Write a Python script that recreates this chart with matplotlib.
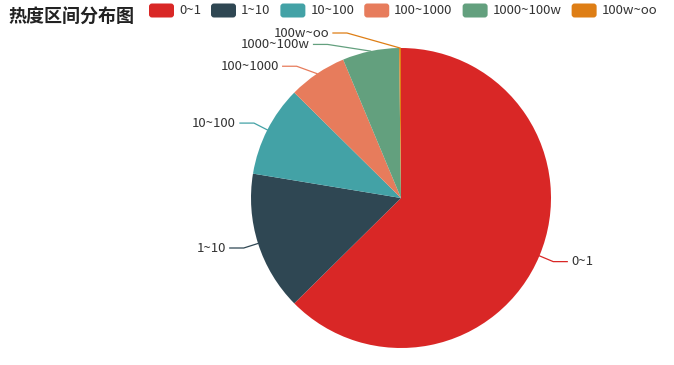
import numpy as np
import matplotlib
matplotlib.use('Agg')
import matplotlib.pyplot as plt
from matplotlib.patches import FancyBboxPatch

plt.rcParams['font.family'] = ['Noto Sans CJK SC', 'DejaVu Sans']

# 数据
title = '热度区间分布图'
categories = ['0~1', '1~10', '10~100', '100~1000', '1000~100w', '100w~oo']
values = [626, 150, 98, 63, 61, 2]
colors = ['#d92726', '#2f4753', '#43a2a6', '#e77c5c', '#63a07e', '#de7e15']

W, H = 674, 365
fig = plt.figure(figsize=(W / 100, H / 100), dpi=100)
ax = fig.add_axes([0, 0, 1, 1])
cx, cy, r = 401, 198, 150  # 像素坐标, y 从上往下


def fy(y):
    return H - y


wedges, _ = ax.pie(values, colors=colors, startangle=90, counterclock=False,
                   center=(cx, fy(cy)), radius=r, wedgeprops=dict(linewidth=0))
ax.set_xlim(0, W)
ax.set_ylim(0, H)
ax.set_aspect('auto')
ax.axis('off')

# 引导线 + 标签 (顶部拥挤的标签稍微挪一下)
nudge = {'100~1000': (-12, 5), '1000~100w': (-40, 8), '100w~oo': (-53, 0)}
len1, len2 = 15, 14
for w, lab, col in zip(wedges, categories, colors):
    mid = np.deg2rad((w.theta1 + w.theta2) / 2)
    c, s = np.cos(mid), np.sin(mid)
    dx, dy = nudge.get(lab, (0, 0))
    x0, y0 = cx + r * c, cy - r * s
    x1, y1 = cx + (r + len1) * c + dx, cy - (r + len1) * s + dy
    side = 1 if c > 0 else -1
    x2 = x1 + side * len2
    ax.plot([x0, x1, x2], [fy(y0), fy(y1), fy(y1)], color=col, lw=0.9)
    ax.text(x2 + side * 4, fy(y1), lab, fontsize=9.5, color='#333333',
            ha='left' if side > 0 else 'right', va='center')

# 标题
ax.text(8, fy(17), title, fontsize=13, fontweight='bold', color='#222222', va='center')

# 图例
fig.canvas.draw()
renderer = fig.canvas.get_renderer()
x = 149
for lab, col in zip(categories, colors):
    box = FancyBboxPatch((x, fy(17.5)), 25, 14, boxstyle='round,pad=0,rounding_size=3',
                         facecolor=col, edgecolor='none')
    ax.add_patch(box)
    t = ax.text(x + 30, fy(10.5), lab, fontsize=9.5, color='#333333', va='center', ha='left')
    tw = t.get_window_extent(renderer).width
    x = x + 30 + tw + 10

plt.savefig('out.png', dpi=100)
